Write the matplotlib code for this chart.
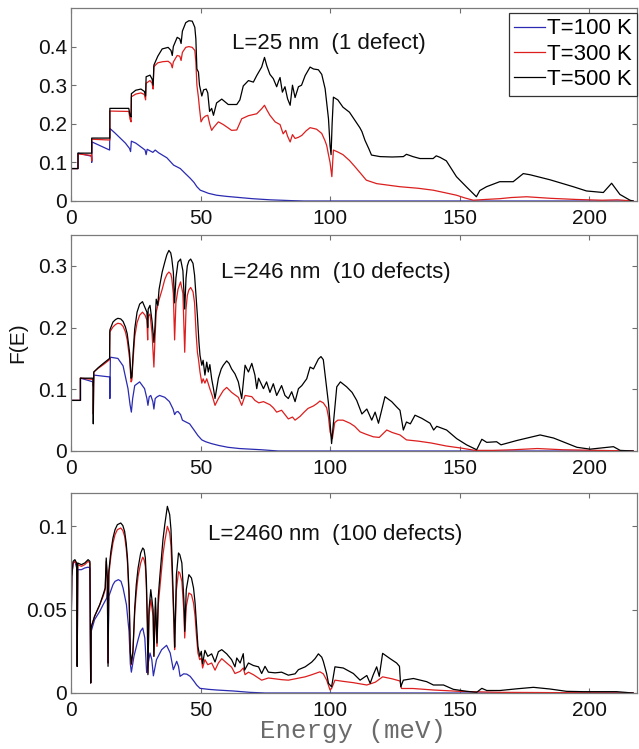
import matplotlib
matplotlib.use("Agg")
import matplotlib.pyplot as plt
from matplotlib.ticker import FuncFormatter, FixedLocator

# ---------------- data: F(E) vs energy (meV) ----------------
temps = ["T=100 K", "T=300 K", "T=500 K"]
titles = ["L=25 nm  (1 defect)", "L=246 nm  (10 defects)", "L=2460 nm  (100 defects)"]

# L = 25 nm, 1 defect
e1_500 = [0, 2.7, 2.7, 8.0, 8.0, 15.0, 15.0, 22.3, 22.8, 23.2, 23.3, 25.0, 27.0, 28.3, 28.8, 29.0, 30.5, 31.3, 31.7, 32.0,
          33.5, 35.2, 37.5, 38.6, 39.1, 39.5, 41.0, 42.0, 42.5, 43.0, 44.3, 45.5, 46.8, 47.8, 48.2, 48.6, 49.2, 49.6, 50.5,
          51.2, 52.2, 52.8, 53.5, 54.3, 55.0, 56.2, 58.2, 60.7, 64.0, 65.2, 66.5, 68.5, 70.4, 71.7, 73.6, 74.7, 75.6, 76.8,
          78.1, 79.4, 80.1, 80.7, 81.6, 82.6, 83.6, 84.6, 85.5, 86.5, 87.8, 89.0, 90.4, 92.3, 93.6, 95.5, 96.8, 98.1, 99.4,
          100.0, 100.4, 100.8, 101.3, 103.0, 105.0, 107.5, 109.6, 110.5, 111.5, 112.3, 113.5, 115.0, 116.0, 119.3, 124.0,
          128.3, 129.5, 132.0, 134.7, 139.8, 141.0, 142.5, 144.9, 148.8, 152.6, 156.5, 157.8, 160.4, 165.5, 170.7, 174.6,
          177.2, 184.9, 193.9, 199.0, 205.5, 208.7, 211.9, 215.8, 217.0]
f1_500 = [0.084, 0.084, 0.124, 0.124, 0.163, 0.163, 0.240, 0.240, 0.222, 0.218, 0.278, 0.287, 0.290, 0.284, 0.272, 0.322,
          0.326, 0.316, 0.300, 0.352, 0.375, 0.394, 0.398, 0.390, 0.377, 0.400, 0.424, 0.420, 0.408, 0.440, 0.462, 0.467,
          0.466, 0.450, 0.420, 0.342, 0.334, 0.300, 0.272, 0.288, 0.290, 0.280, 0.232, 0.240, 0.222, 0.254, 0.264, 0.250,
          0.250, 0.262, 0.298, 0.312, 0.308, 0.325, 0.347, 0.372, 0.350, 0.328, 0.317, 0.296, 0.310, 0.320, 0.282, 0.296,
          0.265, 0.248, 0.300, 0.268, 0.296, 0.300, 0.325, 0.347, 0.342, 0.340, 0.328, 0.291, 0.213, 0.144, 0.120, 0.200,
          0.269, 0.262, 0.243, 0.230, 0.209, 0.200, 0.190, 0.180, 0.157, 0.135, 0.119, 0.115, 0.114, 0.115, 0.121, 0.115,
          0.110, 0.110, 0.117, 0.113, 0.104, 0.063, 0.037, 0.011, 0.027, 0.037, 0.050, 0.050, 0.071, 0.068, 0.055, 0.037,
          0.026, 0.022, 0.046, 0.017, 0.002, 0.0]

e1_300 = [0, 2.7, 2.7, 7.9, 8.0, 8.0, 15.0, 15.0, 22.3, 22.8, 23.2, 23.3, 25.0, 27.0, 28.3, 28.8, 29.0, 30.5, 31.3, 31.7,
          32.0, 33.5, 35.5, 37.5, 38.6, 39.1, 39.5, 41.0, 42.0, 42.5, 43.0, 44.3, 45.5, 46.8, 47.8, 48.2, 48.6, 49.2, 49.6,
          50.2, 51.0, 51.9, 52.8, 53.6, 54.3, 55.0, 56.9, 58.8, 60.1, 62.0, 64.0, 65.9, 68.5, 70.4, 71.7, 73.6, 74.7, 75.6,
          76.8, 78.8, 80.7, 81.9, 82.9, 83.6, 84.6, 85.5, 86.5, 87.8, 89.1, 90.8, 92.3, 94.8, 96.8, 98.0, 98.7, 99.4, 100.0,
          100.7, 101.1, 101.3, 103.0, 105.0, 107.5, 109.6, 112.0, 114.0, 118.0, 127.0, 134.0, 139.8, 144.0, 148.8, 152.0,
          155.3, 160.0, 165.5, 170.0, 175.9, 185.0, 195.0, 205.0, 211.0, 217.0]
f1_300 = [0.084, 0.084, 0.122, 0.118, 0.104, 0.160, 0.158, 0.233, 0.232, 0.212, 0.205, 0.270, 0.277, 0.280, 0.276, 0.262,
          0.305, 0.312, 0.305, 0.290, 0.348, 0.358, 0.361, 0.362, 0.356, 0.345, 0.360, 0.377, 0.375, 0.364, 0.385, 0.398,
          0.400, 0.398, 0.390, 0.360, 0.300, 0.268, 0.240, 0.205, 0.215, 0.220, 0.222, 0.198, 0.183, 0.190, 0.205, 0.198,
          0.192, 0.183, 0.184, 0.213, 0.221, 0.224, 0.226, 0.239, 0.248, 0.236, 0.222, 0.205, 0.198, 0.174, 0.183, 0.168,
          0.153, 0.172, 0.162, 0.165, 0.170, 0.182, 0.190, 0.186, 0.175, 0.157, 0.144, 0.120, 0.100, 0.063, 0.110, 0.132,
          0.127, 0.120, 0.105, 0.089, 0.070, 0.054, 0.045, 0.037, 0.033, 0.028, 0.022, 0.015, 0.008, 0.002, 0.004, 0.006,
          0.009, 0.011, 0.007, 0.004, 0.002, 0.003, 0.0]

e1_100 = [0, 2.7, 2.7, 7.9, 8.0, 8.1, 14.9, 15.0, 17.0, 19.0, 21.0, 22.6, 23.0, 23.3, 25.0, 27.0, 28.6, 29.0, 29.4, 30.5,
          31.6, 32.5, 33.8, 35.5, 37.0, 39.6, 42.2, 44.0, 46.0, 47.5, 48.6, 49.9, 51.5, 53.0, 56.2, 60.0, 65.0, 70.0, 77.0,
          85.0, 90.0, 217.0]
f1_100 = [0.084, 0.084, 0.124, 0.116, 0.100, 0.153, 0.132, 0.188, 0.176, 0.163, 0.150, 0.136, 0.128, 0.155, 0.150, 0.140,
          0.132, 0.120, 0.134, 0.130, 0.126, 0.132, 0.125, 0.118, 0.112, 0.093, 0.084, 0.072, 0.059, 0.048, 0.037, 0.028,
          0.024, 0.020, 0.015, 0.012, 0.009, 0.006, 0.003, 0.001, 0.0, 0.0]

# L = 246 nm, 10 defects
e2_500 = [0, 3.6, 3.6, 8.5, 8.6, 8.8, 10.5, 12.5, 14.9, 15.0, 16.2, 17.2, 18.1, 19.2, 20.1, 21.0, 21.7, 22.6, 23.2, 23.5,
          24.0, 24.6, 25.5, 26.5, 27.6, 28.6, 29.3, 29.6, 29.8, 30.5, 31.3, 32.0, 32.4, 32.9, 33.5, 34.0, 35.2, 36.2, 37.0,
          37.8, 38.5, 38.9, 39.5, 40.0, 40.5, 41.3, 42.3, 43.2, 43.9, 44.4, 44.9, 45.5, 46.2, 47.1, 47.7, 48.3, 48.8, 49.4,
          49.8, 50.5, 51.0, 51.7, 52.4, 53.0, 53.6, 54.3, 55.0, 55.6, 56.9, 58.0, 58.8, 60.1, 61.0, 62.0, 63.3, 64.6, 65.9,
          67.2, 68.5, 69.8, 71.0, 71.7, 72.4, 74.3, 75.5, 76.8, 78.1, 79.4, 81.3, 82.6, 83.9, 85.2, 86.5, 87.8, 89.1, 91.0,
          92.3, 93.6, 95.5, 96.5, 97.4, 98.7, 99.4, 100.0, 100.6, 101.3, 102.6, 104.0, 106.4, 108.5, 110.3, 112.3, 114.2,
          116.1, 117.4, 118.7, 120.0, 121.2, 123.8, 125.8, 127.0, 128.3, 129.5, 131.0, 132.8, 135.4, 138.6, 140.0, 141.2,
          145.0, 148.9, 152.7, 156.6, 158.6, 160.5, 164.3, 166.0, 172.1, 181.1, 186.3, 195.3, 200.4, 209.4, 212.0, 217.0]
f2_500 = [0.082, 0.082, 0.118, 0.118, 0.044, 0.128, 0.135, 0.142, 0.150, 0.196, 0.209, 0.213, 0.215, 0.214, 0.210, 0.201,
          0.190, 0.160, 0.118, 0.120, 0.160, 0.198, 0.225, 0.238, 0.242, 0.232, 0.225, 0.200, 0.230, 0.236, 0.210, 0.176,
          0.200, 0.246, 0.236, 0.262, 0.290, 0.306, 0.318, 0.325, 0.321, 0.312, 0.290, 0.240, 0.280, 0.306, 0.311, 0.292,
          0.230, 0.280, 0.300, 0.308, 0.311, 0.304, 0.285, 0.250, 0.219, 0.176, 0.155, 0.139, 0.147, 0.123, 0.144, 0.128,
          0.140, 0.117, 0.101, 0.085, 0.118, 0.133, 0.139, 0.146, 0.142, 0.133, 0.125, 0.112, 0.085, 0.139, 0.128, 0.142,
          0.123, 0.101, 0.118, 0.101, 0.112, 0.095, 0.109, 0.090, 0.106, 0.090, 0.085, 0.096, 0.080, 0.101, 0.106, 0.117,
          0.136, 0.133, 0.149, 0.153, 0.148, 0.101, 0.077, 0.047, 0.012, 0.045, 0.104, 0.112, 0.104, 0.095, 0.082, 0.060,
          0.068, 0.050, 0.063, 0.045, 0.067, 0.088, 0.080, 0.071, 0.066, 0.034, 0.047, 0.044, 0.058, 0.053, 0.045, 0.034,
          0.040, 0.034, 0.020, 0.010, 0.002, 0.019, 0.014, 0.015, 0.010, 0.017, 0.026, 0.021, 0.006, 0.003, 0.007, 0.001,
          0.0]

e2_300 = [0, 3.6, 3.6, 8.5, 8.6, 8.8, 10.5, 12.5, 14.9, 15.0, 16.2, 17.2, 18.1, 19.2, 20.1, 21.0, 21.7, 22.6, 23.2, 23.5,
          24.0, 24.6, 25.5, 26.5, 27.6, 28.6, 29.3, 29.6, 29.8, 30.5, 31.3, 32.0, 32.4, 32.9, 34.0, 35.2, 36.2, 37.0, 37.8,
          38.5, 38.9, 39.5, 40.0, 40.5, 41.3, 42.3, 43.2, 43.9, 44.4, 44.9, 45.5, 46.2, 47.1, 47.7, 48.3, 48.8, 49.2, 49.8,
          50.5, 51.0, 51.7, 52.4, 53.6, 54.5, 55.6, 56.9, 58.8, 60.1, 62.0, 64.6, 65.9, 67.2, 69.8, 71.0, 72.5, 74.3, 76.8,
          78.1, 79.4, 81.3, 83.9, 85.5, 86.5, 88.4, 90.0, 91.5, 93.6, 95.0, 96.1, 97.4, 98.7, 99.4, 100.0, 100.9, 101.8,
          103.0, 105.0, 107.7, 109.5, 111.6, 114.0, 116.7, 119.0, 121.9, 124.0, 127.0, 129.5, 134.0, 139.0, 145.0, 150.2,
          156.0, 163.0, 170.8, 180.0, 190.0, 217.0]
f2_300 = [0.082, 0.082, 0.118, 0.116, 0.060, 0.128, 0.134, 0.140, 0.148, 0.193, 0.201, 0.205, 0.207, 0.206, 0.202, 0.193,
          0.180, 0.150, 0.112, 0.115, 0.150, 0.185, 0.208, 0.220, 0.225, 0.220, 0.212, 0.180, 0.218, 0.222, 0.190, 0.136,
          0.180, 0.225, 0.245, 0.262, 0.278, 0.286, 0.290, 0.287, 0.280, 0.255, 0.180, 0.240, 0.262, 0.274, 0.255, 0.160,
          0.230, 0.252, 0.261, 0.265, 0.258, 0.240, 0.190, 0.160, 0.149, 0.128, 0.110, 0.117, 0.110, 0.117, 0.101, 0.090,
          0.074, 0.085, 0.098, 0.103, 0.095, 0.087, 0.074, 0.090, 0.088, 0.082, 0.078, 0.080, 0.075, 0.070, 0.063, 0.066,
          0.052, 0.055, 0.050, 0.056, 0.063, 0.069, 0.073, 0.077, 0.081, 0.078, 0.070, 0.055, 0.031, 0.020, 0.046, 0.050,
          0.050, 0.045, 0.040, 0.031, 0.027, 0.023, 0.022, 0.034, 0.030, 0.026, 0.018, 0.016, 0.013, 0.008, 0.005, 0.001,
          0.001, 0.002, 0.004, 0.002, 0.0]

e2_100 = [0, 3.7, 3.7, 8.5, 8.6, 8.8, 14.9, 15.0, 15.2, 18.1, 20.1, 22.0, 22.8, 23.3, 23.8, 24.6, 26.5, 28.4, 29.3, 29.7,
          30.2, 30.8, 31.6, 32.0, 32.5, 33.3, 34.2, 36.2, 38.0, 39.4, 40.0, 40.6, 41.3, 42.3, 43.0, 43.9, 45.8, 47.5, 49.0,
          50.5, 52.0, 54.2, 57.0, 60.6, 65.0, 73.5, 80.0, 217.0]
f2_100 = [0.082, 0.082, 0.118, 0.112, 0.105, 0.123, 0.120, 0.085, 0.152, 0.150, 0.138, 0.101, 0.075, 0.063, 0.085, 0.106,
          0.112, 0.101, 0.085, 0.074, 0.088, 0.090, 0.080, 0.068, 0.085, 0.088, 0.090, 0.087, 0.080, 0.068, 0.059, 0.063,
          0.064, 0.059, 0.050, 0.048, 0.044, 0.034, 0.025, 0.018, 0.015, 0.012, 0.009, 0.006, 0.004, 0.002, 0.0, 0.0]

# L = 2460 nm, 100 defects
e3_500 = [0, 0.3, 0.8, 1.5, 2.2, 2.4, 2.6, 4.0, 5.3, 6.6, 7.3, 7.6, 7.8, 9.1, 11.1, 12.4, 13.2, 13.6, 14.0, 14.3, 14.6,
          15.4, 16.2, 17.0, 17.9, 19.2, 20.0, 20.7, 21.3, 21.8, 22.4, 22.9, 23.3, 23.9, 24.6, 25.2, 25.9, 26.9, 27.7, 28.2,
          28.7, 29.1, 29.5, 29.7, 30.1, 30.8, 31.7, 32.0, 32.6, 33.2, 33.7, 34.3, 34.9, 35.5, 36.2, 37.2, 38.1, 38.6, 39.0,
          39.4, 39.8, 40.0, 40.7, 41.5, 42.0, 42.8, 43.6, 43.9, 44.5, 45.5, 46.5, 47.3, 47.9, 48.4, 49.0, 49.7, 50.3, 50.8,
          51.7, 52.8, 54.3, 55.6, 56.9, 58.2, 60.1, 62.0, 63.3, 64.0, 65.3, 66.5, 67.0, 68.5, 70.4, 72.4, 73.6, 74.9, 76.2,
          78.8, 81.3, 83.9, 86.5, 87.8, 90.4, 92.9, 94.2, 95.5, 96.8, 97.4, 98.7, 99.4, 100.6, 101.9, 105.1, 109.0, 111.6,
          114.2, 115.5, 116.7, 118.0, 119.0, 120.3, 123.2, 125.7, 126.8, 127.3, 128.3, 132.2, 137.3, 139.9, 143.8, 147.6,
          152.8, 156.6, 158.6, 160.5, 165.6, 172.0, 178.5, 184.9, 191.3, 197.8, 210.6, 217.0]
f3_500 = [0.030, 0.070, 0.079, 0.080, 0.078, 0.016, 0.078, 0.077, 0.078, 0.080, 0.079, 0.006, 0.0395, 0.046, 0.053, 0.059,
          0.063, 0.081, 0.070, 0.016, 0.073, 0.085, 0.093, 0.098, 0.101, 0.102, 0.1005, 0.097, 0.090, 0.081, 0.061, 0.025,
          0.0175, 0.025, 0.051, 0.065, 0.075, 0.084, 0.087, 0.086, 0.081, 0.068, 0.042, 0.011, 0.050, 0.062, 0.050, 0.022,
          0.057, 0.030, 0.058, 0.070, 0.081, 0.092, 0.101, 0.112, 0.107, 0.098, 0.081, 0.062, 0.042, 0.0275, 0.071, 0.084,
          0.083, 0.078, 0.055, 0.037, 0.062, 0.071, 0.069, 0.063, 0.054, 0.042, 0.028, 0.022, 0.025, 0.0175, 0.0256, 0.022,
          0.0235, 0.0186, 0.0248, 0.0260, 0.0235, 0.020, 0.0157, 0.021, 0.018, 0.0236, 0.0137, 0.018, 0.0165, 0.0157,
          0.0117, 0.016, 0.0125, 0.0121, 0.0125, 0.0107, 0.0115, 0.014, 0.0157, 0.0185, 0.0206, 0.0235, 0.0215, 0.019,
          0.0115, 0.0058, 0.0037, 0.0157, 0.0150, 0.0117, 0.0077, 0.0105, 0.0058, 0.0110, 0.0157, 0.0100, 0.0238, 0.0206,
          0.0180, 0.0160, 0.0037, 0.0077, 0.0087, 0.0068, 0.0048, 0.0048, 0.0022, 0.0010, 0.0004, 0.0028, 0.0015, 0.0015,
          0.0025, 0.0034, 0.0024, 0.0010, 0.0008, 0.0008, 0.0]

e3_300 = [0, 0.3, 0.8, 1.5, 2.2, 2.4, 2.6, 4.0, 5.3, 6.6, 7.3, 7.6, 7.8, 9.1, 11.1, 12.4, 13.2, 13.6, 14.0, 14.3, 14.6,
          15.4, 16.2, 17.0, 17.9, 19.2, 20.0, 20.7, 21.3, 21.8, 22.4, 22.9, 23.3, 23.9, 24.6, 25.2, 25.9, 26.9, 27.7, 28.2,
          28.7, 29.1, 29.5, 29.7, 30.1, 30.8, 31.7, 32.0, 32.6, 33.2, 33.7, 34.3, 34.9, 35.5, 36.2, 37.2, 38.1, 38.6, 39.0,
          39.4, 39.8, 40.0, 40.7, 41.5, 42.0, 42.8, 43.6, 43.9, 44.5, 45.5, 46.5, 47.3, 47.9, 48.4, 49.0, 49.7, 50.3, 50.8,
          51.7, 52.8, 54.3, 55.6, 56.9, 58.2, 60.1, 62.0, 63.3, 65.3, 66.5, 67.2, 68.5, 70.4, 73.6, 76.2, 78.8, 81.3, 83.9,
          86.5, 90.4, 93.0, 96.1, 97.4, 98.7, 100.0, 100.6, 101.9, 105.0, 109.0, 114.2, 117.5, 120.3, 124.0, 127.0, 127.6,
          132.0, 139.9, 150.0, 165.0, 190.0, 217.0]
f3_300 = [0.030, 0.070, 0.078, 0.079, 0.077, 0.016, 0.077, 0.076, 0.077, 0.079, 0.078, 0.006, 0.0395, 0.046, 0.053, 0.058,
          0.062, 0.079, 0.068, 0.018, 0.071, 0.082, 0.090, 0.095, 0.098, 0.099, 0.0975, 0.094, 0.087, 0.078, 0.058, 0.024,
          0.017, 0.024, 0.048, 0.060, 0.070, 0.078, 0.0815, 0.080, 0.076, 0.063, 0.038, 0.012, 0.046, 0.056, 0.046, 0.022,
          0.052, 0.028, 0.053, 0.063, 0.073, 0.083, 0.091, 0.100, 0.096, 0.088, 0.073, 0.055, 0.038, 0.026, 0.062, 0.0728,
          0.072, 0.067, 0.048, 0.033, 0.052, 0.060, 0.059, 0.054, 0.046, 0.035, 0.024, 0.020, 0.021, 0.015, 0.020, 0.017,
          0.018, 0.0137, 0.018, 0.0206, 0.018, 0.0155, 0.0117, 0.013, 0.015, 0.0110, 0.0125, 0.0110, 0.0077, 0.0090, 0.0085,
          0.0080, 0.0077, 0.0085, 0.0097, 0.011, 0.0127, 0.0115, 0.0077, 0.0018, 0.0027, 0.0077, 0.0070, 0.0062, 0.0048,
          0.0065, 0.0097, 0.0085, 0.0072, 0.0027, 0.0027, 0.0018, 0.0010, 0.0004, 0.0002, 0.0]

e3_100 = [0, 0.3, 0.8, 1.5, 2.2, 2.4, 2.6, 4.0, 5.3, 6.6, 7.3, 7.6, 7.8, 9.1, 11.1, 12.4, 13.8, 14.2, 14.3, 14.6, 16.2,
          17.0, 18.3, 19.3, 20.1, 21.4, 22.4, 22.9, 23.3, 24.3, 25.9, 26.8, 27.7, 28.5, 29.2, 30.5, 31.2, 31.8, 33.0, 35.0,
          36.9, 38.3, 39.5, 40.8, 41.5, 42.1, 43.5, 44.7, 46.0, 47.5, 48.5, 49.8, 53.0, 56.2, 62.7, 69.0, 75.0, 217.0]
f3_100 = [0.030, 0.070, 0.078, 0.079, 0.075, 0.016, 0.074, 0.074, 0.075, 0.0755, 0.075, 0.006, 0.037, 0.044, 0.049, 0.053,
          0.057, 0.063, 0.018, 0.058, 0.065, 0.067, 0.068, 0.067, 0.063, 0.053, 0.037, 0.0175, 0.0125, 0.022, 0.032, 0.037,
          0.039, 0.033, 0.0123, 0.024, 0.020, 0.0103, 0.020, 0.026, 0.0286, 0.024, 0.014, 0.019, 0.016, 0.010, 0.0115,
          0.0113, 0.010, 0.007, 0.0048, 0.0028, 0.0022, 0.0018, 0.0012, 0.0004, 0.0, 0.0]

panels = [
    ((e1_100, f1_100), (e1_300, f1_300), (e1_500, f1_500)),
    ((e2_100, f2_100), (e2_300, f2_300), (e2_500, f2_500)),
    ((e3_100, f3_100), (e3_300, f3_300), (e3_500, f3_500)),
]
y_limits = [0.5, 0.35, 0.12]
y_ticks = [[0, 0.1, 0.2, 0.3, 0.4], [0, 0.1, 0.2, 0.3], [0, 0.05, 0.1]]
x_ticks = [0, 50, 100, 150, 200]
label_pos = [(62.0, 0.408), (58.0, 0.29), (52.8, 0.095)]

# ---------------- styling ----------------
colors = ["#2a2ab2", "#dc1e1e", "#000000"]
sans = ["Liberation Sans", "DejaVu Sans"]
plt.rcParams["font.family"] = sans

fig = plt.figure(figsize=(6.39, 7.49), dpi=100)
W, H = 639.0, 749.0
boxes = [(8, 201), (235, 451), (493, 693)]   # top / bottom edges in pixels
left_px, right_px = 71, 637

fmt = FuncFormatter(lambda v, p: "%g" % v)
axes = []
for i, (top, bot) in enumerate(boxes):
    ax = fig.add_axes([left_px / W, 1 - bot / H, (right_px - left_px) / W, (bot - top) / H])
    axes.append(ax)
    for (xs, ys), c, lab in zip(panels[i], colors, temps):
        ax.plot(xs, ys, color=c, lw=0.9, label=lab)
    ax.set_xlim(0, 218.5)
    ax.set_ylim(0, y_limits[i])
    ax.xaxis.set_major_locator(FixedLocator(x_ticks))
    ax.yaxis.set_major_locator(FixedLocator(y_ticks[i]))
    ax.xaxis.set_major_formatter(fmt)
    ax.yaxis.set_major_formatter(fmt)
    ax.tick_params(direction="in", top=True, right=True, length=3.8, width=0.8,
                   color="#6e6e6e", labelsize=15, labelcolor="#111111")
    ax.tick_params(axis="x", pad=5.5)
    ax.tick_params(axis="y", pad=3)
    for s in ax.spines.values():
        s.set_color("#7a7a7a")
        s.set_linewidth(0.9)
    ax.text(label_pos[i][0], label_pos[i][1], titles[i], fontsize=16, va="center", ha="left", color="#111111")

leg = axes[0].legend(loc="upper right", bbox_to_anchor=(1.0, 0.975), borderaxespad=0,
                     fontsize=16, handlelength=1.4, handletextpad=0.05, labelspacing=0.2,
                     borderpad=0.25, fancybox=False, framealpha=1)
leg.get_frame().set_edgecolor("#333333")
leg.get_frame().set_linewidth(0.9)

fig.text(18 / W, 1 - 343 / H, "F(E)", rotation=90, fontsize=15, va="center", ha="center", color="#111111")
fig.text(353 / W, 1 - 731 / H, "Energy (meV)", fontsize=18.5, family=["Liberation Mono", "DejaVu Sans Mono"],
         va="center", ha="center", color="#6a6a6a")

fig.savefig("out.png", dpi=100)
